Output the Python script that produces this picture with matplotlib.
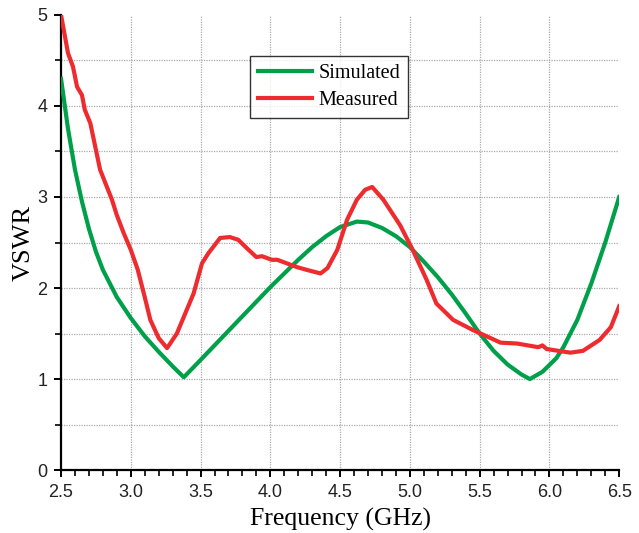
import matplotlib
matplotlib.use("Agg")
import matplotlib.pyplot as plt
from matplotlib.ticker import MultipleLocator

sim_f = [2.5, 2.55, 2.6, 2.65, 2.7, 2.75, 2.8, 2.9, 3.0, 3.1, 3.2, 3.3, 3.38,
         3.5, 3.6, 3.7, 3.8, 3.9, 4.0, 4.1, 4.2, 4.3, 4.4, 4.5, 4.62, 4.7,
         4.8, 4.9, 5.0, 5.1, 5.2, 5.3, 5.4, 5.5, 5.6, 5.7, 5.8, 5.86, 5.95,
         6.05, 6.1, 6.2, 6.3, 6.4, 6.5]
sim_vswr = [4.3, 3.75, 3.3, 2.95, 2.65, 2.4, 2.2, 1.9, 1.67, 1.47, 1.3, 1.14, 1.02,
            1.21, 1.37, 1.53, 1.69, 1.85, 2.01, 2.16, 2.31, 2.45, 2.57, 2.67, 2.73, 2.72,
            2.66, 2.57, 2.45, 2.29, 2.12, 1.93, 1.72, 1.5, 1.31, 1.16, 1.05, 1.0, 1.08,
            1.23, 1.35, 1.65, 2.05, 2.5, 3.0]

meas_f = [2.5, 2.55, 2.586, 2.615, 2.65, 2.67, 2.71, 2.78, 2.865, 2.9, 2.95, 3.0,
          3.05, 3.1, 3.14, 3.2, 3.26, 3.33, 3.45, 3.51, 3.555, 3.64, 3.71, 3.77,
          3.83, 3.9, 3.94, 4.01, 4.05, 4.12, 4.19, 4.26, 4.36, 4.41, 4.48, 4.55,
          4.62, 4.68, 4.73, 4.81, 4.93, 5.02, 5.12, 5.19, 5.31, 5.45, 5.65, 5.77,
          5.92, 5.95, 5.98, 6.15, 6.24, 6.36, 6.44, 6.5]
meas_vswr = [5.0, 4.58, 4.43, 4.21, 4.12, 3.96, 3.81, 3.3, 2.97, 2.8, 2.6, 2.42,
             2.2, 1.9, 1.65, 1.45, 1.34, 1.5, 1.94, 2.27, 2.38, 2.55, 2.56, 2.53,
             2.44, 2.34, 2.35, 2.31, 2.31, 2.27, 2.23, 2.2, 2.16, 2.22, 2.42, 2.75,
             2.97, 3.08, 3.11, 2.97, 2.69, 2.42, 2.09, 1.83, 1.65, 1.54, 1.4, 1.39,
             1.35, 1.37, 1.33, 1.29, 1.31, 1.43, 1.57, 1.8]

fig = plt.figure(figsize=(6.39, 5.33), dpi=100)
ax = fig.add_axes([0.0955, 0.118, 0.8735, 0.854])

# dotted grid, drawn by hand so it stops short of the frame edges
for gx in [3.0, 3.5, 4.0, 4.5, 5.0, 5.5, 6.0]:
    ax.axvline(gx, color="#aaaaaa", lw=0.9, ls=(0, (1, 1)), zorder=0)
for gy in [0.5, 1.0, 1.5, 2.0, 2.5, 3.0, 3.5, 4.0, 4.5]:
    ax.axhline(gy, color="#aaaaaa", lw=0.9, ls=(0, (1, 1)), zorder=0)

ax.plot(sim_f, sim_vswr, color="#00A04A", lw=3, label="Simulated", zorder=3)
ax.plot(meas_f, meas_vswr, color="#EE2B2E", lw=3, label="Measured", zorder=4)

ax.set_xlim(2.5, 6.5)
ax.set_ylim(0, 5)
ax.xaxis.set_major_locator(MultipleLocator(0.5))
ax.xaxis.set_minor_locator(MultipleLocator(0.1))
ax.yaxis.set_major_locator(MultipleLocator(1))
ax.yaxis.set_minor_locator(MultipleLocator(0.5))
ax.xaxis.set_major_formatter(plt.FormatStrFormatter("%.1f"))

for s in ["top", "right"]:
    ax.spines[s].set_visible(False)
for s in ["left", "bottom"]:
    ax.spines[s].set_linewidth(1.6)

ax.tick_params(which="major", direction="out", length=5, width=1.4,
               labelsize=13, pad=5)
ax.tick_params(which="minor", direction="out", length=4, width=1.2)
for lab in ax.get_xticklabels() + ax.get_yticklabels():
    lab.set_family("Liberation Sans")
    lab.set_color("#222222")

ax.set_xlabel("Frequency (GHz)", family="Liberation Serif", fontsize=18.5)
ax.set_ylabel("VSWR", family="Liberation Serif", fontsize=19)
ax.xaxis.set_label_coords(0.5, -0.082)
ax.yaxis.set_label_coords(-0.047, 0.5)

leg = ax.legend(loc="upper left", bbox_to_anchor=(0.338, 0.91),
                prop={"family": "Liberation Serif", "size": 14.5},
                frameon=True, fancybox=False, handlelength=2.7,
                borderpad=0.4, labelspacing=0.4, handletextpad=0.3,
                borderaxespad=0)
leg.get_frame().set_edgecolor("black")
leg.get_frame().set_linewidth(1.0)

fig.savefig("out.png", dpi=100)
